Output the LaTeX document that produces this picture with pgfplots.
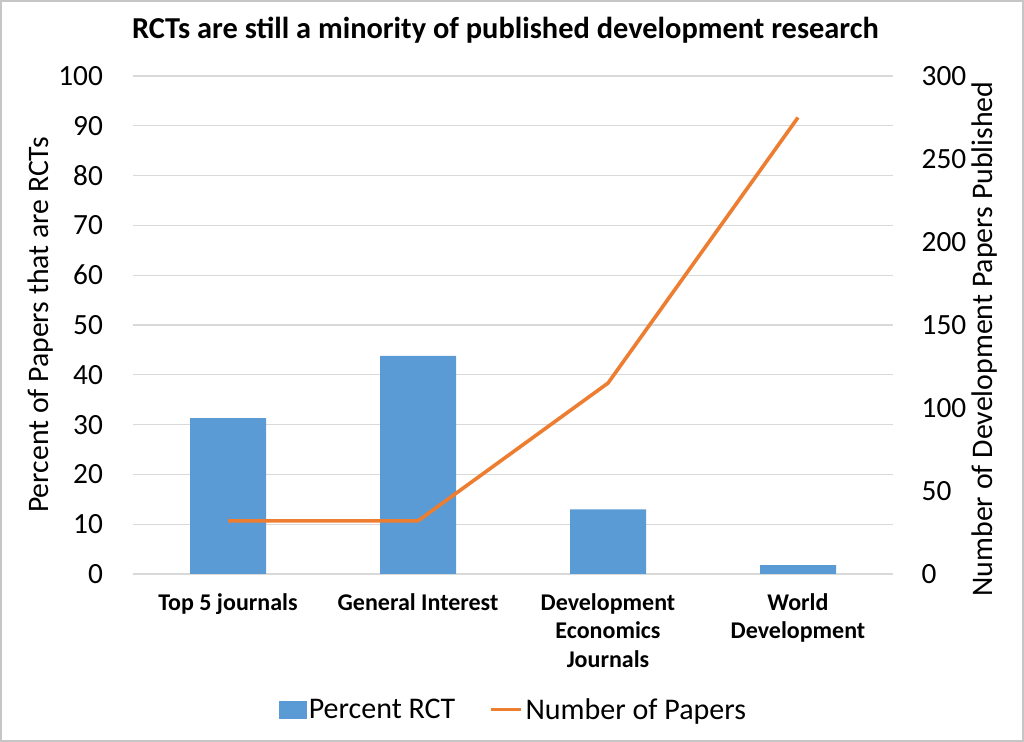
\documentclass[border=0pt]{standalone}
\usepackage{pgfplots}
\pgfplotsset{compat=1.18}
\usepackage{fontspec}
\setmainfont{Carlito}
\definecolor{rctblue}{HTML}{5B9BD5}
\definecolor{paporange}{HTML}{ED7D31}
\definecolor{gridgray}{HTML}{D9D9D9}

\begin{document}
\begin{tikzpicture}
\path[use as bounding box] (0,0) rectangle (768pt,556.5pt);
\draw[gray!45, line width=0.8pt] (0.75pt,0.75pt) rectangle (767.25pt,555.75pt);

\pgfplotsset{
  common/.style={
    scale only axis,
    width=570pt, height=373.5pt,
    at={(99.75pt,126pt)}, anchor=south west,
    xmin=-0.5, xmax=3.5,
    axis line style={draw=none},
    tick style={draw=none},
    /pgf/number format/assume math mode=true,
    yticklabel style={font=\fontsize{22}{24}\selectfont},
  }
}

% left axis: percent RCT (bars)
\begin{axis}[
  common,
  ymin=0, ymax=100,
  ytick={0,10,...,100},
  ymajorgrids,
  grid style={gridgray, line width=1pt},
  xtick={0,1,2,3},
  xticklabels={Top 5 journals, General Interest, Development\\Economics\\Journals, World\\Development},
  x tick label style={font=\bfseries\fontsize{18}{21.5}\selectfont, align=center, anchor=north, yshift=-11pt},
  yticklabel style={anchor=east, xshift=-19pt},
  title={RCTs are still a minority of published development research},
  every axis title/.style={at={(axis description cs:0.49,1.092)}, anchor=center, font=\bfseries\fontsize{22.8}{26}\selectfont},
  ylabel={Percent of Papers that are RCTs},
  every axis y label/.style={at={(axis description cs:-0.122,0.5)}, rotate=90, anchor=center, font=\fontsize{22.3}{25}\selectfont},
]
\addplot[ybar, bar width=57pt, fill=rctblue, draw=none] coordinates {(0,31.3) (1,43.8) (2,13.0) (3,1.8)};
\end{axis}

% right axis: number of papers (line)
\begin{axis}[
  common,
  ymin=0, ymax=300,
  ytick={0,50,...,300},
  axis x line=none,
  axis y line*=right,
  yticklabel style={anchor=west, xshift=18pt},
  ylabel={Number of Development Papers Published},
  every axis y label/.style={at={(axis description cs:1.121,0.472)}, rotate=90, anchor=center, font=\fontsize{22.4}{25}\selectfont},
  legend style={at={(axis description cs:0.501,-0.273)}, anchor=center, draw=none,
    font=\fontsize{22.5}{25}\selectfont, legend columns=2,
    nodes={inner xsep=2pt},
    /tikz/every even column/.append style={column sep=24pt}},
]
\addlegendimage{legend image code/.code={\fill[rctblue] (0pt,-6.25pt) rectangle (20pt,6.25pt);}}
\addlegendentry{Percent RCT}
\addplot[paporange, line width=2.7pt,
  legend image code/.code={\draw[paporange, line width=2.2pt] (0pt,0pt) -- (22.5pt,0pt);}]
  coordinates {(0,32) (1,32) (2,115) (3,275)};
\addlegendentry{Number of Papers}
\end{axis}
\end{tikzpicture}
\end{document}
